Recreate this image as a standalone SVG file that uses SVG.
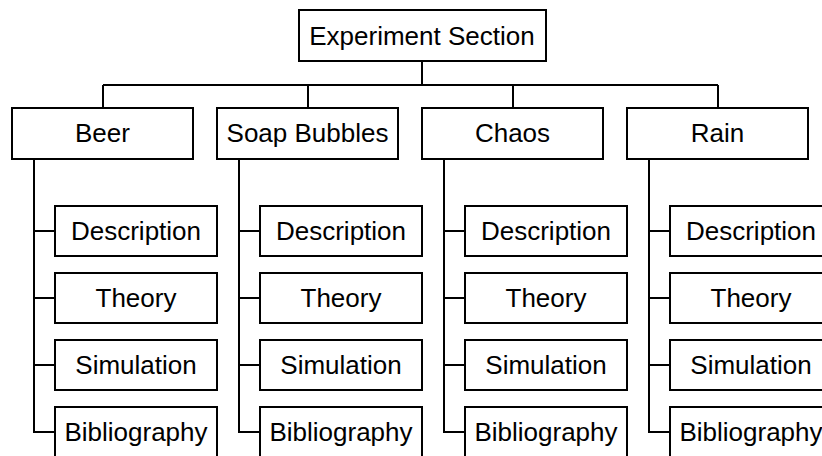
<svg xmlns="http://www.w3.org/2000/svg" width="822" height="456" viewBox="0 0 822 456">
<style>
rect{fill:#fff;stroke:#000;stroke-width:2}
text{font-family:"Liberation Sans",Arial,sans-serif;font-size:26px;fill:#000;text-anchor:middle}
.c{fill:none;stroke:#000;stroke-width:2}
</style>
<rect x="0" y="0" width="822" height="456" style="stroke:none"/>
<g id="connectors">
<path class="c" d="M422,61V85M103,85H718M103,85V108M308,85V108M513,85V108M718,85V108"/>
<path class="c" d="M34,159V432H55M34,231H55M34,298H55M34,365H55"/>
<path class="c" d="M239,159V432H260M239,231H260M239,298H260M239,365H260"/>
<path class="c" d="M444,159V432H465M444,231H465M444,298H465M444,365H465"/>
<path class="c" d="M649,159V432H670M649,231H670M649,298H670M649,365H670"/>
</g>
<g id="root"><rect x="299" y="10" width="247" height="51"/><text x="422" y="44.5">Experiment Section</text></g>
<g id="beer"><rect x="12" y="108" width="181" height="51"/><text x="102.5" y="142">Beer</text></g>
<g id="soap"><rect x="217" y="108" width="181" height="51"/><text x="307.5" y="142">Soap Bubbles</text></g>
<g id="chaos"><rect x="422" y="108" width="181" height="51"/><text x="512.5" y="142">Chaos</text></g>
<g id="rain"><rect x="627" y="108" width="181" height="51"/><text x="717.5" y="142">Rain</text></g>
<g id="beer-description"><rect x="55" y="206" width="162" height="50"/><text x="136" y="240">Description</text></g>
<g id="beer-theory"><rect x="55" y="273" width="162" height="50"/><text x="136" y="307">Theory</text></g>
<g id="beer-simulation"><rect x="55" y="340" width="162" height="50"/><text x="136" y="374">Simulation</text></g>
<g id="beer-bibliography"><rect x="55" y="407" width="162" height="60"/><text x="136" y="441">Bibliography</text></g>
<g id="soap-description"><rect x="260" y="206" width="162" height="50"/><text x="341" y="240">Description</text></g>
<g id="soap-theory"><rect x="260" y="273" width="162" height="50"/><text x="341" y="307">Theory</text></g>
<g id="soap-simulation"><rect x="260" y="340" width="162" height="50"/><text x="341" y="374">Simulation</text></g>
<g id="soap-bibliography"><rect x="260" y="407" width="162" height="60"/><text x="341" y="441">Bibliography</text></g>
<g id="chaos-description"><rect x="465" y="206" width="162" height="50"/><text x="546" y="240">Description</text></g>
<g id="chaos-theory"><rect x="465" y="273" width="162" height="50"/><text x="546" y="307">Theory</text></g>
<g id="chaos-simulation"><rect x="465" y="340" width="162" height="50"/><text x="546" y="374">Simulation</text></g>
<g id="chaos-bibliography"><rect x="465" y="407" width="162" height="60"/><text x="546" y="441">Bibliography</text></g>
<g id="rain-description"><rect x="670" y="206" width="162" height="50"/><text x="751" y="240">Description</text></g>
<g id="rain-theory"><rect x="670" y="273" width="162" height="50"/><text x="751" y="307">Theory</text></g>
<g id="rain-simulation"><rect x="670" y="340" width="162" height="50"/><text x="751" y="374">Simulation</text></g>
<g id="rain-bibliography"><rect x="670" y="407" width="162" height="60"/><text x="751" y="441">Bibliography</text></g>
</svg>
